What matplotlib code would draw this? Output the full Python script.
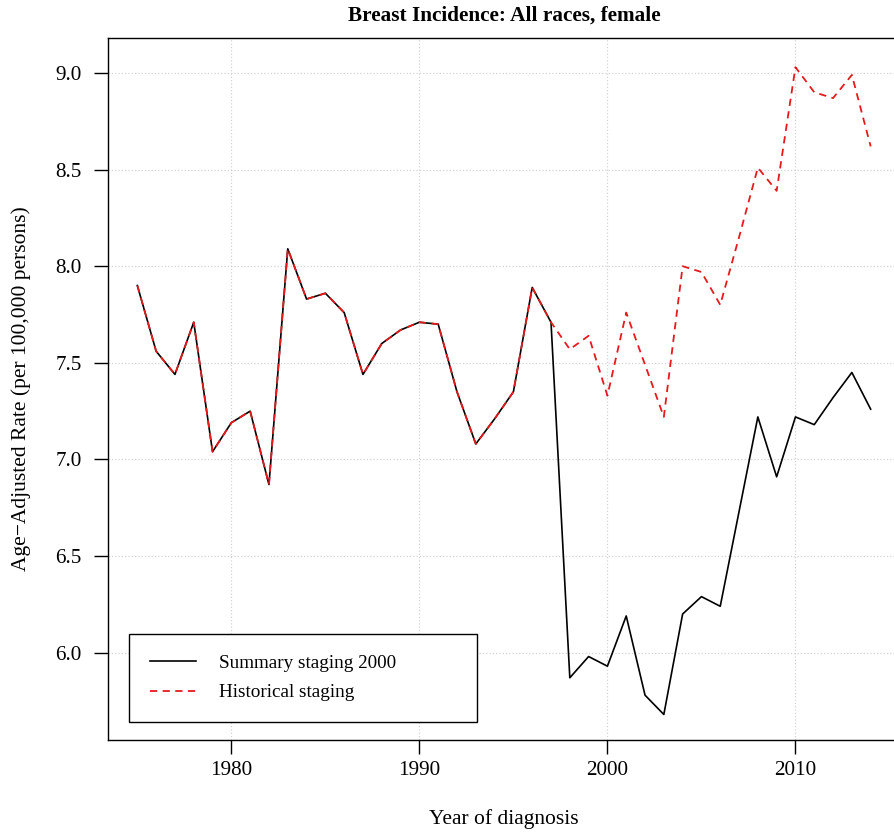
import numpy as np
import matplotlib
matplotlib.use('Agg')
import matplotlib.pyplot as plt

plt.rcParams['font.family'] = ['Liberation Serif', 'DejaVu Serif']

# Datos
years = np.arange(1975, 2015)
summary_2000 = [7.90, 7.56, 7.44, 7.71, 7.04, 7.19, 7.25, 6.87, 8.09, 7.83,
                7.86, 7.76, 7.44, 7.60, 7.67, 7.71, 7.70, 7.35, 7.08, 7.21,
                7.35, 7.89, 7.71, 5.87, 5.98, 5.93, 6.19, 5.78, 5.68, 6.20,
                6.29, 6.24, 6.73, 7.22, 6.91, 7.22, 7.18, 7.32, 7.45, 7.26]
historical = [7.90, 7.56, 7.44, 7.71, 7.04, 7.19, 7.25, 6.87, 8.09, 7.83,
              7.86, 7.76, 7.44, 7.60, 7.67, 7.71, 7.70, 7.35, 7.08, 7.21,
              7.35, 7.89, 7.71, 7.57, 7.64, 7.33, 7.76, 7.49, 7.22, 8.00,
              7.97, 7.80, 8.15, 8.51, 8.39, 9.03, 8.90, 8.87, 8.99, 8.62]
xticks = [1980, 1990, 2000, 2010]
yticks = [6.0, 6.5, 7.0, 7.5, 8.0, 8.5, 9.0]

fig = plt.figure(figsize=(8.94, 8.33), dpi=100)
ax = fig.add_axes([108/894, 1 - 740/833, 792/894, 702/833])

# rejilla punteada como grid() de R
for x in xticks:
    ax.axvline(x, color='#d3d3d3', ls=':', lw=0.9, zorder=0)
for y in yticks:
    ax.axhline(y, color='#d3d3d3', ls=':', lw=0.9, zorder=0)

ax.plot(years, summary_2000, color='black', lw=1.2, label='Summary staging 2000')
ax.plot(years, historical, color='#e41a1c', lw=1.3, dashes=(4, 3),
        label='Historical staging')

ax.set_xlim(1975 - 0.04*39, 2014 + 0.04*39)
ax.set_ylim(5.548, 9.181)
ax.set_xticks(xticks)
ax.set_yticks(yticks)
ax.set_yticklabels([f'{v:.1f}' for v in yticks])
ax.tick_params(direction='out', length=10, width=1, labelsize=15.2)
ax.tick_params(axis='x', pad=5)
ax.tick_params(axis='y', pad=9)
for s in ax.spines.values():
    s.set_linewidth(1.0)

ax.set_title('Breast Incidence: All races, female', fontweight='bold',
             fontsize=15.3, y=(740 - 16)/702, pad=0, va='center')
ax.set_xlabel('Year of diagnosis', fontsize=15.5, va='center')
ax.xaxis.set_label_coords(0.5, (740 - 819)/702)
ax.set_ylabel('Age\u2212Adjusted Rate (per 100,000 persons)', fontsize=15.5, va='center')
ax.yaxis.set_label_coords((21 - 108)/792, 0.5)

leg = ax.legend(loc='lower left', bbox_to_anchor=(21/792, 18/702, 348/792, 88/702),
                mode='expand', fontsize=13.8, frameon=True, fancybox=False,
                edgecolor='black', framealpha=1, handlelength=2.4,
                handletextpad=1.2, labelspacing=0.62, borderpad=1.08,
                borderaxespad=0)
leg.get_frame().set_linewidth(1.0)

fig.savefig('out.png', dpi=100)
